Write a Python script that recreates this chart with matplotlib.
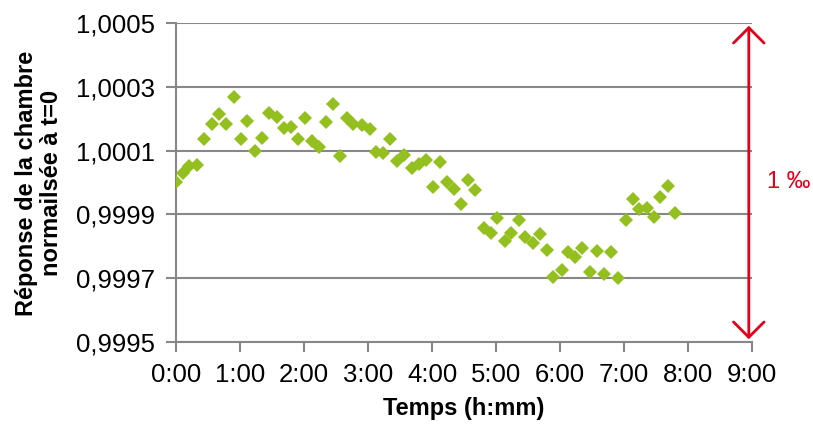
import matplotlib
matplotlib.use("Agg")
import matplotlib.pyplot as plt
from matplotlib.patches import FancyArrowPatch

plt.rcParams['font.family'] = ['Liberation Sans', 'DejaVu Sans']

# elapsed time (minutes) and chamber response normalised to t=0
minutes = [0, 7, 12.5, 19.5, 26.5, 33.5, 40.5, 47, 54, 60.5, 67, 74, 81, 87,
           94.5, 101, 108, 114.5, 121, 127.5, 134.5, 141, 147.5, 154, 160.5,
           166, 174.5, 181.5, 187.5, 194.5, 201, 207, 214, 221.5, 228, 234.5,
           241, 247.5, 254.5, 261, 267.5, 274, 280.5, 288.5, 295.5, 301,
           308, 314.5, 321.5, 327.5, 335, 341, 348, 353.5, 361.5, 367.5,
           374, 381, 388, 394.5, 401, 407.5, 414.5, 421.5, 428, 434, 441.5,
           448, 454, 461.5, 468]
response = [1.000003, 1.000031, 1.000053, 1.000055, 1.000137, 1.000183,
            1.000215, 1.000183, 1.000269, 1.000136, 1.000193, 1.000099,
            1.000139, 1.000218, 1.000206, 1.000170, 1.000175, 1.000136,
            1.000201, 1.000129, 1.000110, 1.000189, 1.000245, 1.000084,
            1.000201, 1.000184, 1.000180, 1.000168, 1.000097, 1.000092,
            1.000136, 1.000066, 1.000086, 1.000045, 1.000058, 1.000072,
            0.999987, 1.000065, 1.000003, 0.999980, 0.999933, 1.000009,
            0.999977, 0.999858, 0.999841, 0.999889, 0.999817, 0.999841,
            0.999881, 0.999829, 0.999809, 0.999838, 0.999788, 0.999703,
            0.999726, 0.999781, 0.999766, 0.999794, 0.999720, 0.999785,
            0.999712, 0.999783, 0.999700, 0.999884, 0.999947, 0.999916,
            0.999919, 0.999892, 0.999956, 0.999990, 0.999903]

x_ticks = [0, 60, 120, 180, 240, 300, 360, 420, 480, 540]
x_labels = ['0:00', '1:00', '2:00', '3:00', '4:00', '5:00', '6:00', '7:00',
            '8:00', '9:00']
y_ticks = [0.9995, 0.9997, 0.9999, 1.0001, 1.0003, 1.0005]
y_labels = ['0,9995', '0,9997', '0,9999', '1,0001', '1,0003', '1,0005']

span_low, span_high = 0.9995, 1.0005   # 1 per mille band
span_time = 537

green = '#93C01F'
red = '#E2001A'
grey = '#878787'

fig = plt.figure(figsize=(8.13, 4.24), dpi=100)
ax = fig.add_axes([176 / 813, 1 - 342 / 424, 576 / 813, 319 / 424])

ax.plot(minutes, response, linestyle='none', marker='D', markersize=7.5,
        markeredgewidth=0, color=green, zorder=3)

ax.set_xlim(0, 540)
ax.set_ylim(0.9995, 1.0005)
ax.set_xticks(x_ticks)
ax.set_xticklabels(x_labels)
ax.set_yticks(y_ticks)
ax.set_yticklabels(y_labels)

ax.grid(axis='y', color=grey, linewidth=1.5)
ax.set_axisbelow(True)
for side in ['top', 'right']:
    ax.spines[side].set_visible(False)
for side in ['left', 'bottom']:
    ax.spines[side].set_color(grey)
    ax.spines[side].set_linewidth(1.5)
ax.tick_params(axis='both', direction='out', length=7, width=1.5,
               color=grey, labelsize=18.5, labelcolor='black', pad=8)

# double arrow marking the full 1 per mille scale
arrow = FancyArrowPatch((span_time, span_low), (span_time, span_high),
                        arrowstyle='<->,head_length=0.55,head_width=0.55',
                        mutation_scale=20, color=red, linewidth=2,
                        clip_on=False, zorder=4)
ax.add_patch(arrow)
ax.text(1.026, (span_low + span_high) / 2, '1 ‰', color=red, fontsize=17,
        ha='left', va='center', transform=ax.get_yaxis_transform())

fig.text(39 / 813, 1 - 183 / 424, 'Réponse de la chambre\nnormailsée à t=0',
         rotation=90, ha='center', va='center', multialignment='center',
         fontsize=17, fontweight='bold', linespacing=1.15)
fig.text(464 / 813, 1 - 409 / 424, 'Temps (h:mm)', ha='center', va='center',
         fontsize=17, fontweight='bold')

fig.savefig('out.png', dpi=100)
